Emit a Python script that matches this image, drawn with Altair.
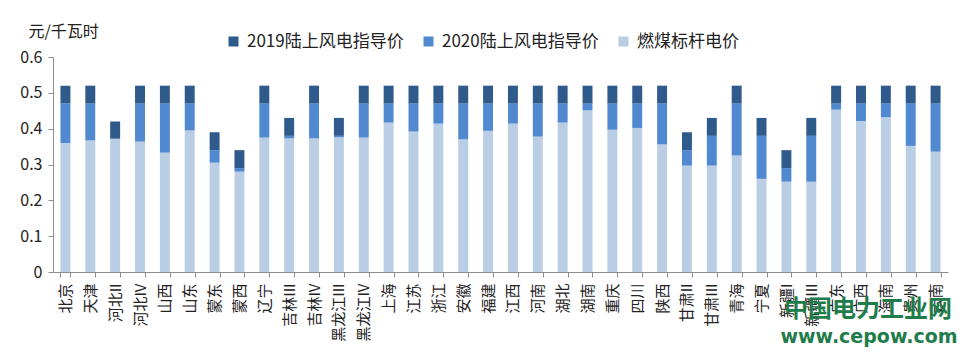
import altair as alt
import pandas as pd

provinces = ["北京", "天津", "河北II", "河北IV", "山西", "山东", "蒙东", "蒙西", "辽宁",
             "吉林III", "吉林IV", "黑龙江III", "黑龙江IV", "上海", "江苏", "浙江", "安徽",
             "福建", "江西", "河南", "湖北", "湖南", "重庆", "四川", "陕西", "甘肃II",
             "甘肃III", "青海", "宁夏", "新疆I", "新疆III", "广东", "广西", "海南", "贵州", "云南"]

coal = [0.360, 0.367, 0.372, 0.364, 0.333, 0.395, 0.305, 0.280, 0.375,
        0.373, 0.373, 0.376, 0.375, 0.417, 0.392, 0.414, 0.370,
        0.394, 0.414, 0.378, 0.417, 0.451, 0.397, 0.402, 0.356, 0.297,
        0.297, 0.325, 0.260, 0.252, 0.252, 0.453, 0.421, 0.432, 0.352, 0.336]

guide2020 = [0.47, 0.47, 0.37, 0.47, 0.47, 0.47, 0.34, 0.29, 0.47,
             0.38, 0.47, 0.38, 0.47, 0.47, 0.47, 0.47, 0.47,
             0.47, 0.47, 0.47, 0.47, 0.47, 0.47, 0.47, 0.47, 0.34,
             0.38, 0.47, 0.38, 0.29, 0.38, 0.47, 0.47, 0.47, 0.47, 0.47]

guide2019 = [0.52, 0.52, 0.42, 0.52, 0.52, 0.52, 0.39, 0.34, 0.52,
             0.43, 0.52, 0.43, 0.52, 0.52, 0.52, 0.52, 0.52,
             0.52, 0.52, 0.52, 0.52, 0.52, 0.52, 0.52, 0.52, 0.39,
             0.43, 0.52, 0.43, 0.34, 0.43, 0.52, 0.52, 0.52, 0.52, 0.52]

series = ["2019陆上风电指导价", "2020陆上风电指导价", "燃煤标杆电价"]
colors = ["#2E5A8C", "#5189D0", "#B9CDE5"]
y_ticks = [0, 0.1, 0.2, 0.3, 0.4, 0.5, 0.6]

rows = []
for p, c, g20, g19 in zip(provinces, coal, guide2020, guide2019):
    mid = max(0.0, g20 - c)
    top = g19 - max(c, g20)
    rows.append({"province": p, "series": series[2], "value": c, "ord": 0})
    rows.append({"province": p, "series": series[1], "value": mid, "ord": 1})
    rows.append({"province": p, "series": series[0], "value": top, "ord": 2})
df = pd.DataFrame(rows)

FONT = "Noto Sans CJK SC"

bars = alt.Chart(df).mark_bar().encode(
    x=alt.X("province:N", sort=provinces,
            scale=alt.Scale(paddingInner=0.6, paddingOuter=0.3),
            axis=alt.Axis(title=None, labelAngle=270, labelAlign="right",
                          labelBaseline="middle", labelFontSize=15, labelFont=FONT,
                          labelColor="#222222", labelPadding=6, tickSize=5,
                          tickBand="extent", domainColor="#8c8c8c", tickColor="#8c8c8c",
                          labelOverlap=False, labelLimit=0)),
    y=alt.Y("value:Q", stack="zero",
            scale=alt.Scale(domain=[0, 0.6], nice=False),
            axis=alt.Axis(values=y_ticks, format=".1~f", grid=False,
                          labelFontSize=16, labelFont=FONT, labelColor="#222222",
                          labelPadding=6, tickSize=5, domainColor="#8c8c8c",
                          tickColor="#8c8c8c",
                          title="元/千瓦时", titleAngle=0, titleAlign="left",
                          titleBaseline="middle", titleX=-25, titleY=-26,
                          titleFontSize=16, titleFont=FONT, titleFontWeight="normal",
                          titleColor="#222222")),
    color=alt.Color("series:N", scale=alt.Scale(domain=series, range=colors),
                    legend=alt.Legend(title=None, orient="none", legendX=172, legendY=-24,
                                      direction="horizontal", symbolType="square",
                                      symbolSize=100, symbolStrokeWidth=0,
                                      labelFontSize=17, labelFont=FONT, labelLimit=0,
                                      labelColor="#222222", columnPadding=16,
                                      gridAlign="none",
                                      labelOffset=5, padding=0)),
    order=alt.Order("ord:Q", sort="ascending"),
)

wm = pd.DataFrame({"t1": ["中国电力工业网"], "t2": ["www.cepow.com"]})
wm1 = alt.Chart(wm).mark_text(font=FONT, fontSize=24, fontWeight="bold",
                              color="#1E7D4A", align="center", baseline="middle").encode(
    x=alt.value(815), y=alt.value(253), text="t1:N")
wm2 = alt.Chart(wm).mark_text(font="DejaVu Sans", fontSize=19, fontWeight="bold",
                              color="#1E7D4A", align="center", baseline="middle").encode(
    x=alt.value(816), y=alt.value(280), text="t2:N")

chart = alt.layer(bars, wm1, wm2).properties(
    width=895, height=215,
    autosize=alt.AutoSizeParams(type="none"),
    padding={"left": 45, "top": 49, "right": 12, "bottom": 80},
).configure_view(stroke=None)

chart.save("out.html", embed_options={"renderer": "svg", "actions": False})
